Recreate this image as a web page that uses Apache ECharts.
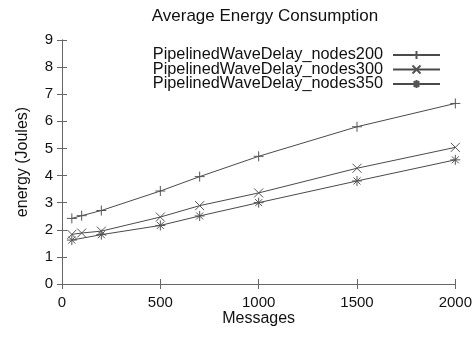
<!DOCTYPE html>
<html>
<head>
<meta charset="utf-8">
<script src="https://cdn.jsdelivr.net/npm/echarts@6/dist/echarts.min.js"></script>
<style>
  html, body { margin: 0; padding: 0; background: #fff; }
  #chart { width: 475px; height: 337px; }
</style>
</head>
<body>
<div id="chart"></div>
<script>
// Message counts and measured average energy (Joules) per node count
const messages200 = [50, 100, 200, 500, 700, 1000, 1500, 2000];
const energy200   = [2.42, 2.52, 2.71, 3.43, 3.96, 4.71, 5.80, 6.66];

const messages300 = [50, 100, 200, 500, 700, 1000, 1500, 2000];
const energy300   = [1.83, 1.88, 1.95, 2.47, 2.89, 3.36, 4.27, 5.04];

const messages350 = [50, 200, 500, 700, 1000, 1500, 2000];
const energy350   = [1.62, 1.82, 2.16, 2.51, 3.00, 3.80, 4.58];

const seriesNames = [
  'PipelinedWaveDelay_nodes200',
  'PipelinedWaveDelay_nodes300',
  'PipelinedWaveDelay_nodes350'
];

// Point symbols: plus, cross and asterisk drawn as stroked paths
const plusMark = 'path://M5,0L5,10M0,5L10,5';
const crossMark = 'path://M0,0L10,10M10,0L0,10';
const starMark = 'path://M5,0L5,10M0,5L10,5M1.5,1.5L8.5,8.5M8.5,1.5L1.5,8.5';

const FONT = '"Liberation Sans", Arial, sans-serif';
const lineColor = '#4a4a4a';
const markColor = '#555';

function pairs(xs, ys) {
  return xs.map((x, i) => [x, ys[i]]);
}

function makeSeries(name, xs, ys, mark, size) {
  return {
    name: name,
    type: 'line',
    data: pairs(xs, ys),
    symbol: mark,
    symbolSize: size,
    showAllSymbol: true,
    animation: false,
    lineStyle: { color: lineColor, width: 1 },
    itemStyle: { color: 'rgba(0,0,0,0)', borderColor: markColor, borderWidth: 1 },
    emphasis: { disabled: true }
  };
}

const chart = echarts.init(document.getElementById('chart'), null, { renderer: 'canvas' });

const axisLine = { show: true, lineStyle: { color: '#666', width: 1 } };
const tickStyle = { show: true, inside: true, length: 5, lineStyle: { color: '#666', width: 1 } };

chart.setOption({
  backgroundColor: '#fff',
  animation: false,
  title: {
    text: 'Average Energy Consumption',
    left: 260,
    textAlign: 'center',
    top: 3,
    textStyle: { fontFamily: FONT, fontSize: 17, fontWeight: 'normal', color: '#111' }
  },
  legend: {
    data: seriesNames,
    orient: 'vertical',
    right: 34,
    top: 47,
    align: 'right',
    itemWidth: 47,
    itemHeight: 10,
    itemGap: -1.5,
    textStyle: { fontFamily: FONT, fontSize: 16.3, color: '#111', padding: [0, 5, 0, 0] },
    padding: 0,
    selectedMode: false
  },
  grid: { left: 62, right: 14, top: 40, bottom: 53 },
  xAxis: [
    {
      type: 'value',
      min: 0, max: 2000, interval: 500,
      position: 'bottom',
      name: 'Messages',
      nameLocation: 'middle',
      nameGap: 27,
      nameMoveOverlap: false,
      nameTextStyle: { fontFamily: FONT, fontSize: 16, color: '#111' },
      axisLine: axisLine,
      axisTick: tickStyle,
      axisLabel: { fontFamily: FONT, fontSize: 15, color: '#111', margin: 11, formatter: (v) => String(v) },
      splitLine: { show: false }
    },
    {
      type: 'value',
      min: 0, max: 2000, interval: 500,
      position: 'top',
      axisLine: axisLine,
      axisTick: tickStyle,
      axisLabel: { show: false },
      splitLine: { show: false }
    }
  ],
  yAxis: [
    {
      type: 'value',
      min: 0, max: 9, interval: 1,
      position: 'left',
      name: 'energy (Joules)',
      nameLocation: 'middle',
      nameGap: 31,
      nameMoveOverlap: false,
      nameTextStyle: { fontFamily: FONT, fontSize: 16, color: '#111' },
      axisLine: axisLine,
      axisTick: tickStyle,
      axisLabel: { fontFamily: FONT, fontSize: 15, color: '#111', margin: 9 },
      splitLine: { show: false }
    },
    {
      type: 'value',
      min: 0, max: 9, interval: 1,
      position: 'right',
      axisLine: axisLine,
      axisTick: tickStyle,
      axisLabel: { show: false },
      splitLine: { show: false }
    }
  ],
  series: [
    makeSeries(seriesNames[0], messages200, energy200, plusMark, 10),
    makeSeries(seriesNames[1], messages300, energy300, crossMark, 9),
    makeSeries(seriesNames[2], messages350, energy350, starMark, 10)
  ]
});
</script>
</body>
</html>
